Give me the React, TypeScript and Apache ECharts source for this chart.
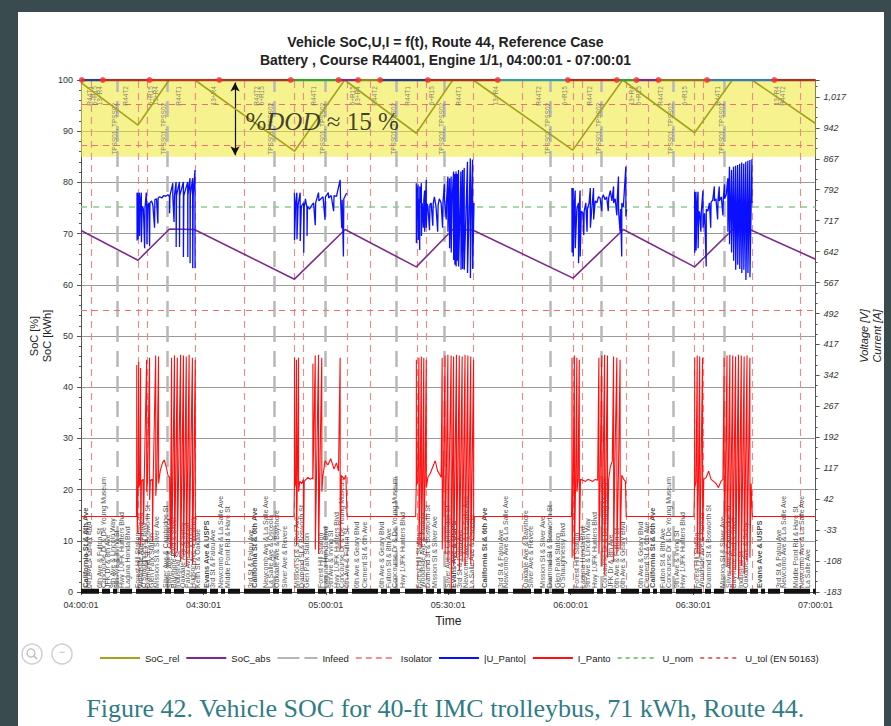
import React, { useEffect, useRef } from "react";
import * as echarts from "echarts";

const TITLE_1 = "Vehicle SoC,U,I = f(t), Route 44, Reference Case";
const TITLE_2 = "Battery , Course R44001, Engine 1/1, 04:00:01 - 07:00:01";
const CAPTION = "Figure 42. Vehicle SOC for 40-ft IMC trolleybus, 71 kWh, Route 44.";

const xTickLabels = ["04:00:01", "04:30:01", "05:00:01", "05:30:01", "06:00:01", "06:30:01", "07:00:01"];
const rightTicks = [-183, -108, -33, 42, 117, 192, 267, 342, 417, 492, 567, 642, 717, 792, 867, 942, 1017];

// time in minutes after 04:00:01
const socRel = [[0, 99.5], [13.96, 91.2], [21.6, 100], [27.9, 100], [52.3, 86.1], [64.6, 100], [82.16, 89.6], [91.1, 100], [96.1, 100], [120.5, 86.3], [132.7, 100], [150.36, 89.7], [159.6, 100], [164.4, 100], [180, 91.5]];
const socAbs = [[0, 70.6], [13.96, 64.8], [21.68, 70.9], [27.77, 70.8], [52.3, 61.1], [64.72, 70.8], [82.16, 63.5], [91.1, 70.8], [95.97, 70.7], [120.57, 61.3], [132.9, 70.8], [150.36, 63.5], [159.7, 70.8], [164.16, 70.7], [180, 65.0]];

const infeedTimes = [8.94, 21.02, 47.25, 59.84, 77.28, 89.07, 114.89, 127.39, 145.24, 157.66];
const isolatorTimes = [2.6, 13.96, 16.15, 27.94, 39.95, 52.3, 54.56, 65.35, 70.81, 82.4, 84.52, 96.21, 108.14, 120.56, 122.76, 133.55, 139.01, 150.36, 152.55, 164.41, 176.34];
const uNomLevels = [750];
const uTolLevels = [500, 900, 1000];

const uPanto1 = [[13.72,785],[13.74,669],[13.9,785],[14.0,672],[14.1,760],[14.3,785],[14.35,680],[14.5,758],[14.78,785],[14.8,665],[15.0,752],[15.3,745],[15.59,650],[15.7,750],[16.0,785],[16.1,748],[16.16,660],[16.3,752],[16.6,760],[16.81,655],[16.9,760],[17.3,765],[17.6,755],[18.03,700],[18.1,768],[18.5,770],[18.84,710],[18.9,772],[19.3,775],[19.8,772],[20.3,778],[20.8,776],[21.3,780],[21.68,775],[21.7,735],[21.8,778],[22.49,808],[22.5,776],[22.8,714],[22.9,778],[23.3,811],[23.32,653],[23.4,778],[24.12,811],[24.14,653],[24.2,778],[25.09,811],[25.1,629],[25.2,778],[26.15,811],[26.17,629],[26.2,778],[26.71,820],[26.73,614],[26.8,778],[27.36,820],[27.38,602],[27.5,778],[27.93,840],[27.95,602]];
const uPanto2 = [[52.3,785],[52.32,670],[52.6,760],[52.9,785],[52.92,672],[53.2,755],[53.7,785],[53.72,668],[54.0,752],[54.56,760],[54.58,639],[54.7,750],[55.0,770],[55.37,748],[55.39,680],[55.5,752],[56.0,745],[56.6,755],[57.0,760],[57.4,706],[57.5,760],[58.2,785],[58.3,765],[58.8,770],[59.3,775],[59.8,719],[59.9,775],[60.6,785],[60.7,772],[61.3,778],[61.9,740],[62.0,778],[62.6,776],[63.5,816],[63.6,770],[63.9,699],[64.0,768],[64.3,630],[64.4,770],[64.8,778],[65.1,784]];
const uPanto3 = [[82.16,808],[82.18,663],[82.4,790],[82.6,805],[82.62,670],[82.8,770],[83.0,646],[83.02,800],[83.2,760],[83.4,808],[83.42,680],[83.6,760],[83.9,700],[84.0,765],[84.2,790],[84.22,690],[84.6,816],[84.62,700],[84.8,758],[85.0,752],[85.4,694],[85.5,756],[85.8,760],[86.2,705],[86.3,758],[86.6,775],[87.0,750],[87.4,690],[87.5,755],[87.8,770],[88.25,760],[88.6,700],[88.7,762],[89.05,805],[89.1,765],[89.5,720],[89.6,770],[89.9,824],[89.92,690],[90.3,820],[90.32,650],[90.7,824],[90.72,640],[91.0,780],[91.3,836],[91.32,622],[91.6,830],[91.62,610],[91.9,836],[91.92,606],[92.2,830],[92.22,620],[92.5,840],[92.52,606],[93.1,836],[93.12,598],[93.5,840],[93.52,600],[93.9,845],[93.92,598],[94.7,860],[94.72,590],[95.4,868],[95.42,578],[95.7,780],[95.96,865],[95.98,600],[96.3,760]];
const uPanto4 = [[120.3,796],[120.32,640],[120.6,796],[120.62,630],[120.9,760],[121.1,790],[121.12,650],[121.5,745],[121.9,760],[121.92,614],[122.1,750],[122.3,790],[122.32,630],[122.6,740],[123.0,735],[123.2,682],[123.3,740],[123.7,760],[124.0,690],[124.1,745],[124.5,760],[124.8,796],[124.82,700],[125.2,750],[125.6,796],[125.62,720],[126.0,765],[126.4,760],[126.8,775],[127.2,772],[127.6,740],[127.7,772],[128.0,780],[128.4,768],[128.8,775],[129.2,740],[129.3,772],[129.7,790],[130.1,765],[130.5,800],[130.52,760],[130.9,770],[131.3,730],[131.4,768],[131.7,824],[131.72,740],[132.1,690],[132.2,745],[132.5,630],[132.52,760],[132.9,750],[133.5,848],[133.52,727],[133.7,745]];
const uPanto5 = [[150.36,787],[150.38,639],[150.7,787],[150.72,645],[151.0,760],[151.2,787],[151.22,650],[151.4,740],[151.6,736],[151.9,690],[152.0,738],[152.4,790],[152.42,700],[152.8,735],[153.2,606],[153.22,745],[153.6,740],[154.0,760],[154.3,700],[154.4,762],[154.8,767],[155.2,800],[155.22,765],[155.6,770],[156.0,720],[156.1,768],[156.4,800],[156.42,765],[156.9,775],[157.3,730],[157.4,772],[157.7,805],[157.72,770],[158.1,780],[158.5,820],[158.52,690],[158.9,848],[158.92,660],[159.4,840],[159.42,640],[159.9,848],[159.92,620],[160.4,850],[160.42,598],[160.9,852],[160.92,610],[161.4,855],[161.42,600],[161.9,858],[161.92,590],[162.4,855],[162.42,598],[162.9,860],[162.92,573],[163.4,862],[163.42,590],[163.9,864],[163.92,580],[164.4,866],[164.42,760]];

const iPanto1 = [[13.6,0],[13.64,85],[13.66,367],[13.7,90],[13.8,-40],[14.0,80],[14.13,375],[14.15,70],[14.4,80],[14.61,360],[14.63,-70],[14.8,85],[15.2,90],[15.35,-20],[15.5,90],[16.08,380],[16.1,60],[16.3,85],[16.8,385],[16.82,40],[17.0,88],[17.5,90],[17.52,-60],[17.7,95],[18.3,390],[18.32,50],[18.6,95],[19.0,388],[19.02,80],[19.4,110],[19.97,130],[20.4,137],[20.9,120],[21.3,100],[21.7,95],[21.9,-80],[22.2,385],[22.22,-90],[22.5,90],[22.9,390],[22.92,-100],[23.2,90],[23.6,385],[23.62,-85],[23.9,90],[24.4,392],[24.42,-110],[24.7,88],[25.1,390],[25.12,-95],[25.4,90],[25.8,388],[25.82,-120],[26.1,90],[26.5,392],[26.52,-100],[26.8,88],[27.3,385],[27.32,-115],[27.6,80],[28.0,380],[28.02,-60],[28.1,0]];
const iPanto2 = [[52.2,0],[52.3,85],[52.32,385],[52.34,70],[52.6,80],[52.8,380],[52.82,-70],[53.0,85],[53.3,385],[53.32,60],[53.6,85],[54.1,80],[54.5,90],[54.52,-60],[54.7,85],[55.6,95],[56.2,90],[56.8,95],[56.82,370],[56.84,90],[57.4,390],[57.42,-80],[57.7,95],[58.2,392],[58.22,-90],[58.5,95],[59.0,385],[59.02,60],[59.3,100],[59.8,135],[60.5,125],[61.2,140],[62.0,115],[62.6,130],[63.1,110],[63.5,385],[63.52,-80],[63.8,100],[64.5,90],[64.9,100],[65.2,0]];
const iPanto3 = [[82.0,0],[82.16,85],[82.18,380],[82.2,75],[82.5,85],[82.8,385],[82.82,-70],[83.1,85],[83.4,388],[83.42,-75],[83.7,88],[84.0,385],[84.02,-60],[84.3,88],[84.6,380],[84.62,70],[85.0,95],[85.6,105],[86.2,120],[86.8,135],[87.4,110],[88.0,100],[88.25,95],[88.5,385],[88.52,-80],[88.8,90],[89.2,390],[89.22,-90],[89.5,88],[89.9,392],[89.92,-110],[90.2,90],[90.7,390],[90.72,-185],[91.0,85],[91.3,388],[91.32,-120],[91.6,88],[92.0,392],[92.02,-100],[92.3,90],[92.7,390],[92.72,-130],[93.0,88],[93.4,388],[93.42,-110],[93.7,85],[94.1,392],[94.12,-120],[94.4,88],[94.8,390],[94.82,-100],[95.1,85],[95.5,388],[95.52,-115],[95.8,85],[96.2,380],[96.22,-60],[96.4,0]];
const iPanto4 = [[120.2,0],[120.3,85],[120.32,385],[120.34,-100],[120.6,85],[120.9,390],[120.92,-105],[121.2,88],[121.5,385],[121.52,60],[121.8,88],[122.1,380],[122.12,-60],[122.4,90],[123.0,88],[123.6,85],[124.2,90],[124.8,88],[125.4,85],[126.0,90],[126.6,88],[126.9,385],[126.92,-90],[127.2,88],[127.6,390],[127.62,-120],[127.9,85],[128.3,392],[128.32,-140],[128.6,88],[129.0,390],[129.02,-100],[129.3,90],[129.7,120],[130.2,135],[130.5,388],[130.52,-110],[130.8,120],[131.3,385],[131.32,-90],[131.7,110],[132.1,380],[132.12,-80],[132.5,100],[133.0,90],[133.4,85],[133.6,0]];
const iPanto5 = [[150.2,0],[150.36,85],[150.38,385],[150.4,70],[150.7,85],[151.0,390],[151.02,-90],[151.3,88],[151.6,388],[151.62,-100],[151.9,88],[152.3,385],[152.32,-60],[152.6,90],[153.2,95],[153.8,110],[154.4,90],[155.0,85],[155.6,80],[156.2,70],[156.8,85],[157.3,90],[157.6,385],[157.62,-80],[157.9,85],[158.3,390],[158.32,-120],[158.6,88],[159.0,392],[159.02,-140],[159.3,85],[159.7,390],[159.72,-185],[160.0,88],[160.4,388],[160.42,-130],[160.7,85],[161.1,392],[161.12,-150],[161.4,88],[161.8,390],[161.82,-120],[162.1,85],[162.5,388],[162.52,-140],[162.8,85],[163.2,390],[163.22,-110],[163.5,85],[163.9,385],[163.92,-100],[164.2,80],[164.5,0]];

// course-state line at the top (boundaries in minutes) and its event dots
const courseBounds = [0, 5.36, 16.8, 33.9, 51.4, 63.1, 67.9, 73.3, 85.0, 102.1, 119.3, 131.3, 136.1, 141.5, 153.4, 169.9, 180];
const courseEvents = [0.2, 5.36, 16.8, 33.9, 51.4, 63.1, 67.9, 73.3, 85.0, 102.1, 119.3, 131.3, 136.1, 141.5, 153.4, 169.9];

const stopLabelsBold: [number, string][] = [
  [1.0, "California St & 6th Ave"], [30.7, "Evans Ave & USPS"], [42.6, "California St & 6th Ave"],
  [91.3, "Evans Ave & USPS"], [98.9, "California St & 6th Ave"], [140.1, "California St & 6th Ave"], [166.3, "Evans Ave & USPS"],
];
const stopLabels: [number, string][] = [
  [1.9, "6th Ave & Geary Blvd"], [4.6, "6th Ave & Fulton St"], [5.6, "Concourse Dr & De Young Museum"], [6.6, "JFK Dr & 8th Ave"],
  [7.8, "9th Ave & Lincoln Way"], [8.8, "9th Ave & Irving St"], [10.0, "Hwy 1/JFK Hunters Blvd"], [11.4, "Laguna Honda Blvd"],
  [13.9, "Forest Hill Station"], [14.6, "Woodside Ave & Portola"], [15.3, "O'Shaughnessy Blvd"], [16.3, "Diamond St & Bosworth St"],
  [17.3, "Glen Park Station"], [18.5, "Mission St & Silver Ave"], [20.7, "Silver Ave & Cambridge St"], [21.7, "Silver Ave & Oxford St"],
  [22.7, "Bayshore Blvd & Silver"], [23.6, "Industrial St"], [24.8, "Oakdale Ave & Selby"], [26.1, "Palou Ave & Newhall"],
  [27.3, "Hudson Ave & Whitney"], [28.5, "Keith St & Oakdale"], [32.2, "3rd St & Palou Ave"], [34.3, "Newcomb Ave & La Salle Ave"],
  [35.8, "Middle Point Rd & Hare St"], [41.6, "3rd St & Palou Ave"], [45.1, "Newcomb Ave & La Salle Ave"], [46.5, "La Salle Ave & Osceola"],
  [48.0, "Oakdale Ave & Bayshore"], [49.9, "Silver Ave & Revere"], [52.8, "Mission St & Silver Ave"], [54.1, "Diamond St & Bosworth St"],
  [55.3, "Glen Park Station"], [58.7, "Forest Hill Station"], [59.9, "Laguna Honda Blvd"], [61.1, "9th Ave & Irving St"],
  [62.6, "Hwy 1/JFK Hunters Blvd"], [63.8, "Concourse Dr & De Young Museum"], [65.0, "6th Ave & Fulton St"], [67.5, "6th Ave & Geary Blvd"],
  [69.4, "Clement St & 6th Ave"], [73.6, "6th Ave & Geary Blvd"], [75.3, "Fulton St & 8th Ave"], [76.7, "Concourse Dr & De Young Museum"],
  [78.7, "Hwy 1/JFK Hunters Blvd"], [82.6, "Forest Hill Station"], [83.8, "Woodside Ave & Portola"], [85.0, "Diamond St & Bosworth St"],
  [86.5, "Mission St & Silver Ave"], [89.9, "Silver Ave & Cambridge St"], [92.8, "3rd St & Palou Ave"], [94.3, "Newcomb Ave & La Salle Ave"],
  [95.7, "La Salle Ave & Osceola"], [102.8, "3rd St & Palou Ave"], [104.0, "Newcomb Ave & La Salle Ave"], [108.9, "Oakdale Ave & Bayshore"],
  [110.1, "Silver Ave & Revere"], [113.0, "Mission St & Silver Ave"], [114.7, "Diamond St & Bosworth St"], [116.7, "Glen Park Station"],
  [118.1, "O'Shaughnessy Blvd"], [121.5, "Forest Hill Station"], [122.8, "Laguna Honda Blvd"], [124.0, "9th Ave & Lincoln Way"],
  [125.9, "Hwy 1/JFK Hunters Blvd"], [128.4, "Concourse Dr & De Young Museum"], [129.8, "JFK Dr & 8th Ave"], [131.3, "6th Ave & Fulton St"],
  [132.7, "6th Ave & Geary Blvd"], [137.1, "6th Ave & Geary Blvd"], [138.6, "Clement St & 6th Ave"], [142.5, "Fulton St & 8th Ave"],
  [143.9, "Concourse Dr & De Young Museum"], [145.9, "9th Ave & Irving St"], [147.4, "Hwy 1/JFK Hunters Blvd"], [150.8, "Forest Hill Station"],
  [152.0, "Woodside Ave & Portola"], [153.7, "Diamond St & Bosworth St"], [157.1, "Mission St & Silver Ave"], [158.6, "Silver Ave & Cambridge St"],
  [160.0, "Bayshore Blvd & Silver"], [161.5, "Industrial St"], [162.9, "Oakdale Ave & Selby"], [170.9, "3rd St & Palou Ave"],
  [172.2, "Newcomb Ave & La Salle Ave"], [175.1, "Middle Point Rd & Hare St"], [176.6, "Newcomb Ave & La Salle Ave"], [178.1, "La Salle Ave"],
];
const infeedLabels = infeedTimes.map((t) => [t - 0.7, "TPSS01, TPSS02"]);
const segmentLabels: [number, string][] = [
  [2.0, "R44T1"], [3.3, "6+R15"], [4.5, "13+R4"], [11.0, "R44T2"], [17.0, "6+R15"], [18.2, "13+R4"], [24.0, "R44T1"],
  [32.5, "13+R4"], [43.0, "R44T2"], [44.2, "6+R15"], [57.0, "R44T1"], [66.5, "6+R15"], [67.7, "13+R4"], [72.0, "R44T2"],
  [80.0, "R44T1"], [86.0, "6+R15"], [92.5, "R44T1"], [101.5, "13+R4"], [112.0, "R44T2"], [118.5, "6+R15"], [124.5, "R44T2"],
  [135.0, "13+R4"], [136.5, "6+R15"], [142.0, "R44T2"], [148.0, "6+R15"], [156.0, "R44T1"], [170.5, "13+R4"], [172.0, "R44T2"],
];

const COURSE_COLORS = ["#2a3f8c", "#a8322a", "#b33a22", "#9a3a2a", "#3c9b3c", "#7a2c8a", "#8c8a22", "#2a3a7c", "#a33224", "#3a9a9c", "#a33224", "#3c9b3c", "#7a2c8a", "#8c7a22", "#3a7cac", "#a33224"];
const FONT = "'Liberation Sans', Arial, sans-serif";

function xLabel(v: number) {
  const i = Math.round(v / 30);
  return xTickLabels[i] ?? "";
}

export default function App() {
  const ref = useRef<HTMLDivElement>(null);
  useEffect(() => {
    document.body.style.margin = "0";
    if (!ref.current) return;
    const chart = echarts.init(ref.current, undefined, { renderer: "svg" });
    const gap = (t: number) => [[t, "-"]];
    const uPanto = [...uPanto1, ...gap(40), ...uPanto2, ...gap(70), ...uPanto3, ...gap(110), ...uPanto4, ...gap(140), ...uPanto5];
    const iPanto = [[0, 0], ...iPanto1, ...iPanto2, ...iPanto3, ...iPanto4, ...iPanto5, [180, 0]];

    const courseSeries = COURSE_COLORS.map((c, i) => ({
      type: "line", yAxisIndex: 0, symbol: "none", silent: true, z: 9,
      data: [[courseBounds[i], 100], [courseBounds[i + 1], 100]],
      lineStyle: { color: c, width: 2.5 },
    }));

    const option: any = {
      animation: false,
      backgroundColor: "transparent",
      textStyle: { fontFamily: FONT },
      title: {
        text: TITLE_1 + "\n" + TITLE_2, left: "center", top: 28,
        textStyle: { fontFamily: FONT, fontSize: 14, fontWeight: "bold", color: "#222", lineHeight: 18 },
      },
      legend: {
        data: ["SoC_rel", "SoC_abs", "Infeed", "Isolator", "|U_Panto|", "I_Panto", "U_nom", "U_tol (EN 50163)"],
        left: 94, top: 648, width: 790, itemWidth: 40, itemHeight: 6, itemGap: 6,
        itemStyle: { opacity: 0 },
        textStyle: { fontSize: 9.5, color: "#222", fontFamily: FONT },
      },
      grid: { left: 81, right: 70, top: 80, bottom: 134 },
      xAxis: {
        type: "value", min: 0, max: 180, interval: 30,
        axisLabel: { formatter: xLabel, fontSize: 9, color: "#333", margin: 8 },
        axisLine: { lineStyle: { color: "#555" } },
        axisTick: { show: true, length: 3 },
        splitLine: { show: false },
        name: "Time", nameLocation: "middle", nameGap: 23,
        nameTextStyle: { fontSize: 12, color: "#222" },
      },
      yAxis: [
        {
          type: "value", min: 0, max: 100, interval: 10, position: "left",
          axisLine: { show: true, lineStyle: { color: "#555" } },
          axisTick: { show: true, length: 4 },
          minorTick: { show: true, splitNumber: 5, length: 2 },
          splitLine: { show: true, lineStyle: { color: "#9a9a9a", width: 1.2 } },
          axisLabel: { fontSize: 9, color: "#333", margin: 8 },
          name: "SoC [%]\nSoC [kWh]", nameLocation: "middle", nameGap: 28, nameRotate: 90, nameMoveOverlap: false,
          nameTextStyle: { fontSize: 11, color: "#222", lineHeight: 13 },
        },
        {
          type: "value", min: -183, max: 1058, interval: 75, position: "right",
          axisLine: { show: true, lineStyle: { color: "#555" } },
          axisTick: { show: true, length: 4 },
          minorTick: { show: true, splitNumber: 3, length: 2 },
          splitLine: { show: false },
          axisLabel: {
            formatter: (v: number) => (rightTicks.includes(Math.round(v)) ? Math.round(v).toLocaleString("en-US") : ""),
            fontSize: 9, fontStyle: "italic", color: "#333", margin: 8,
          },
          name: "Voltage [V]\nCurrent [A]", nameLocation: "middle", nameGap: 27, nameRotate: 90,
          nameTextStyle: { fontSize: 11, fontStyle: "italic", color: "#222", lineHeight: 13 },
        },
      ],
      series: [
        {
          name: "SoC_rel", type: "line", yAxisIndex: 0, data: socRel, symbol: "none", z: 6,
          color: "#a3a31c", lineStyle: { color: "#a3a31c", width: 1.6 },
          markArea: { silent: true, itemStyle: { color: "rgba(239,231,50,0.55)" }, data: [[{ yAxis: 85 }, { yAxis: 100 }]] },
        },
        {
          name: "SoC_abs", type: "line", yAxisIndex: 0, data: socAbs, symbol: "none", z: 6,
          color: "#7d2b8b", lineStyle: { color: "#7d2b8b", width: 1.6 },
        },
        {
          name: "Infeed", type: "line", yAxisIndex: 0, data: [], symbol: "none", z: 3,
          color: "#b5b5b5", lineStyle: { color: "#b5b5b5", width: 2.5, type: [22, 5] },
          markLine: {
            silent: true, symbol: "none", label: { show: false },
            lineStyle: { color: "#b8b8b8", width: 2.5, type: [16, 9] },
            data: infeedTimes.map((t) => ({ xAxis: t })),
          },
        },
        {
          name: "Isolator", type: "line", yAxisIndex: 0, data: [], symbol: "none", z: 3,
          color: "#f19191", lineStyle: { color: "#f19191", width: 1.2, type: [6, 4] },
          markLine: {
            silent: true, symbol: "none", label: { show: false },
            lineStyle: { color: "#f08a8a", width: 1.1, type: [7, 5] },
            data: isolatorTimes.map((t) => ({ xAxis: t })),
          },
        },
        {
          name: "|U_Panto|", type: "line", yAxisIndex: 1, data: uPanto, symbol: "none", z: 7,
          color: "#0a10ff", lineStyle: { color: "#0a10ff", width: 1.3 },
        },
        {
          name: "I_Panto", type: "line", yAxisIndex: 1, data: iPanto, symbol: "none", z: 7,
          color: "#ff1010", lineStyle: { color: "#ff1010", width: 1.1 },
        },
        {
          name: "U_nom", type: "line", yAxisIndex: 1, data: [], symbol: "none", z: 4,
          color: "#7fcc7f", lineStyle: { color: "#7fcc7f", width: 1.3, type: [4, 4] },
          markLine: {
            silent: true, symbol: "none", label: { show: false },
            lineStyle: { color: "#86cf86", width: 1.5, type: [6, 6] },
            data: uNomLevels.map((v) => ({ yAxis: v })),
          },
        },
        {
          name: "U_tol (EN 50163)", type: "line", yAxisIndex: 1, data: [], symbol: "none", z: 4,
          color: "#f06a6a", lineStyle: { color: "#f06a6a", width: 1.3, type: [4, 4] },
          markLine: {
            silent: true, symbol: "none", label: { show: false },
            lineStyle: { color: "#f07070", width: 1.2, type: [6, 5] },
            data: uTolLevels.map((v) => ({ yAxis: v })),
          },
        },
        ...courseSeries,
        {
          type: "scatter", yAxisIndex: 0, silent: true, z: 10, symbolSize: 6,
          itemStyle: { color: "#ff2a2a" },
          data: courseEvents.map((t) => [t, 100]),
        },
        {
          type: "line", yAxisIndex: 0, silent: true, symbol: "none", z: 8,
          data: [[0, 0.15], [180, 0.15]],
          lineStyle: { color: "#111", width: 5, type: [18, 3, 8, 3, 4, 3, 12, 4, 26, 3, 6, 3, 10, 5] },
        },
        {
          type: "scatter", yAxisIndex: 0, silent: true, z: 5, symbolSize: 0,
          data: stopLabels.map(([t, n]) => [t, 0.8, n]),
          label: {
            show: true, position: "inside", rotate: 90, align: "left", verticalAlign: "middle",
            fontSize: 7, color: "#222", fontFamily: FONT, formatter: (p: any) => p.value[2],
          },
        },
        {
          type: "scatter", yAxisIndex: 0, silent: true, z: 5, symbolSize: 0,
          data: stopLabelsBold.map(([t, n]) => [t, 0.8, n]),
          label: {
            show: true, position: "inside", rotate: 90, align: "left", verticalAlign: "middle",
            fontSize: 7.5, fontWeight: "bold", color: "#111", fontFamily: FONT, formatter: (p: any) => p.value[2],
          },
        },
        {
          type: "scatter", yAxisIndex: 0, silent: true, z: 5, symbolSize: 0,
          data: infeedLabels.map(([t, n]) => [t, 85.4, n]),
          label: {
            show: true, position: "inside", rotate: 90, align: "left", verticalAlign: "middle",
            fontSize: 6.5, color: "#666", fontFamily: FONT, formatter: (p: any) => p.value[2],
          },
        },
        {
          type: "scatter", yAxisIndex: 0, silent: true, z: 5, symbolSize: 0,
          data: segmentLabels.map(([t, n]) => [t, 98.8, n]),
          label: {
            show: true, position: "inside", rotate: 90, align: "right", verticalAlign: "middle",
            fontSize: 6.5, color: "#666", fontFamily: FONT, formatter: (p: any) => p.value[2],
          },
        },
        {
          type: "line", yAxisIndex: 0, data: [], silent: true, z: 11,
          markLine: {
            silent: true, symbol: ["arrow", "arrow"], symbolSize: [7, 9], label: { show: false },
            lineStyle: { color: "#111", width: 1.2, type: "solid" },
            data: [[{ coord: [37.75, 99.5] }, { coord: [37.75, 85.3] }]],
          },
        },
        {
          type: "scatter", yAxisIndex: 0, silent: true, z: 11, symbolSize: 0,
          data: [[40.3, 91.9]],
          label: {
            show: true, position: "inside", align: "left", verticalAlign: "middle",
            formatter: "{a|%}{b|DOD}{a| ≈ 15 %}",
            rich: {
              a: { fontFamily: "'Liberation Serif', serif", fontSize: 25, color: "#111" },
              b: { fontFamily: "'Liberation Serif', serif", fontSize: 25, fontStyle: "italic", color: "#111" },
            },
          },
        },
      ],
      graphic: [
        { type: "circle", shape: { cx: 32, cy: 654, r: 10 }, style: { fill: "#fff", stroke: "#cfcfcf", lineWidth: 1.5 } },
        { type: "circle", shape: { cx: 31, cy: 653, r: 4 }, style: { fill: "none", stroke: "#bbb", lineWidth: 1.3 } },
        { type: "line", shape: { x1: 34, y1: 656, x2: 37, y2: 659 }, style: { stroke: "#bbb", lineWidth: 1.5 } },
        { type: "circle", shape: { cx: 62, cy: 654, r: 10 }, style: { fill: "#fff", stroke: "#cfcfcf", lineWidth: 1.5 } },
        { type: "text", x: 62, y: 652, style: { text: "•••", fontSize: 5, fill: "#bbb", align: "center", verticalAlign: "middle" } },
        {
          type: "text", left: "center", top: 695,
          style: { text: CAPTION, font: "26px 'Liberation Serif', serif", fill: "#2f7c84" },
        },
      ],
    };
    chart.setOption(option);
    return () => chart.dispose();
  }, []);

  return (
    <div style={{ position: "relative", width: 891, height: 726, background: "#3a4b4f", overflow: "hidden" }}>
      <div style={{ position: "absolute", left: 18, top: 12, width: 866, height: 714, background: "#fff" }} />
      <div ref={ref} style={{ position: "absolute", left: 0, top: 0, width: 891, height: 726 }} />
    </div>
  );
}
